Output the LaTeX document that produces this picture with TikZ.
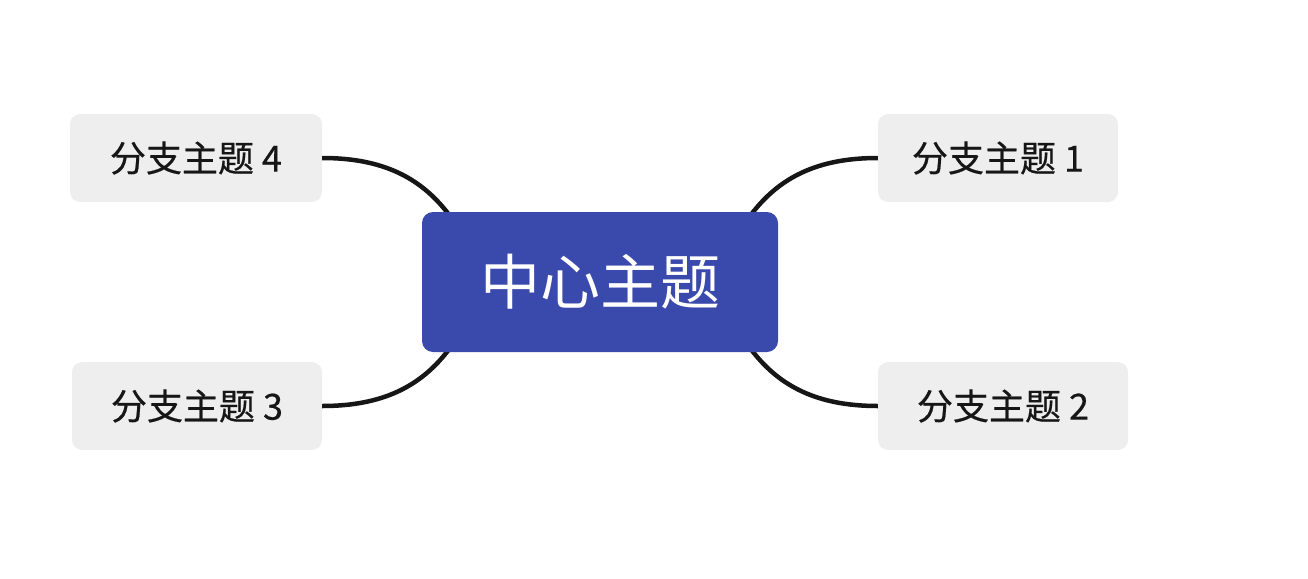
\documentclass[tikz,border=0pt]{standalone}
\usepackage{fontspec}
\setmainfont{Noto Sans CJK SC}
\newfontfamily\branchfont{Noto Sans CJK SC}[FakeBold=0.5]
\definecolor{centerblue}{HTML}{3A4AAC}
\definecolor{branchgray}{HTML}{EEEEEE}
\definecolor{inkblack}{HTML}{161616}
\begin{document}
\begin{tikzpicture}[x=1pt,y=-1pt,
  centerbox/.style={fill=centerblue, rounded corners=11pt, inner sep=0pt,
    minimum width=356pt, minimum height=140pt, text=white,
    font=\fontsize{60}{66}\selectfont},
  branchbox/.style={fill=branchgray, rounded corners=10pt, inner sep=0pt,
    minimum height=88pt, text=inkblack,
    font=\branchfont\fontsize{36}{40}\selectfont},
  link/.style={draw=inkblack, line width=4.5pt}]
\useasboundingbox (0,0) rectangle (1308,578);

% anchor points of the connectors, hidden under the central topic
\coordinate (cnw) at (468,245);
\coordinate (cne) at (732,245);
\coordinate (csw) at (468,319);
\coordinate (cse) at (732,319);

% branch topics
\node[branchbox, minimum width=252pt] (b4) at (196,158) {分支主题 4};
\node[branchbox, minimum width=240pt] (b1) at (998,158) {分支主题 1};
\node[branchbox, minimum width=250pt] (b3) at (197,406) {分支主题 3};
\node[branchbox, minimum width=250pt] (b2) at (1003,406) {分支主题 2};

% curved connectors
\draw[link] (b4.east) .. controls +(75,0) and (438,188) .. (cnw);
\draw[link] (b1.west) .. controls +(-75,0) and (762,188) .. (cne);
\draw[link] (b3.east) .. controls +(75,0) and (438,376) .. (csw);
\draw[link] (b2.west) .. controls +(-75,0) and (762,376) .. (cse);

% central topic drawn on top of the connector ends
\node[centerbox] (c) at (600,282) {中心主题};
\end{tikzpicture}
\end{document}
